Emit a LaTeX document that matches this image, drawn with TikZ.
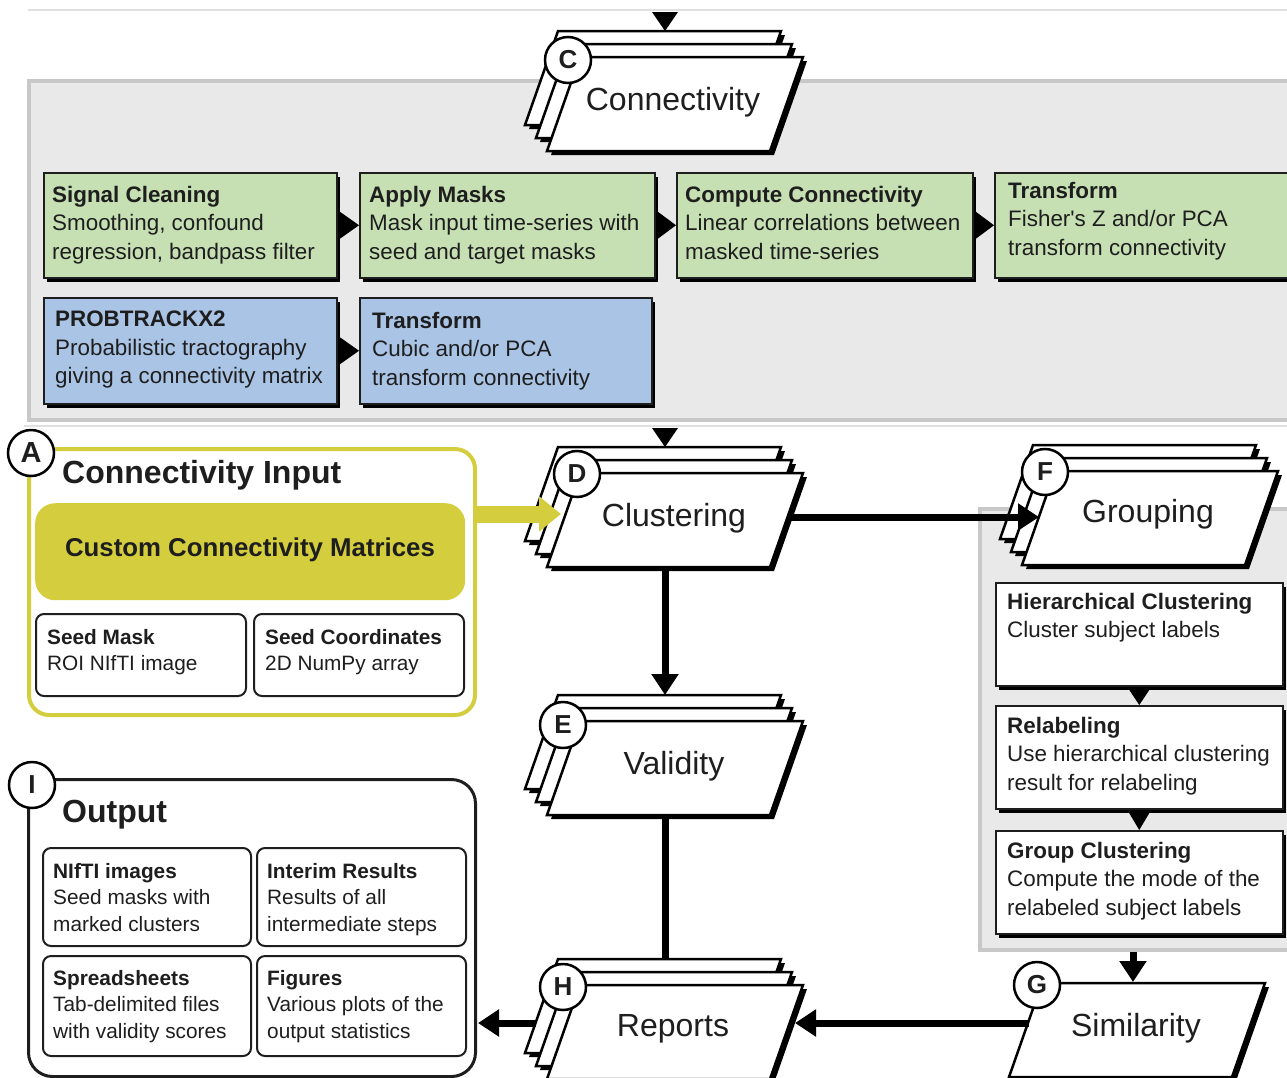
\documentclass[tikz,border=0pt]{standalone}
\usepackage{fontspec}
\setmainfont{Liberation Sans}
\usetikzlibrary{arrows.meta,shadows,calc}

\definecolor{panelfill}{RGB}{233,233,233}
\definecolor{paneledge}{RGB}{200,200,200}
\definecolor{boxgreen}{RGB}{198,224,180}
\definecolor{boxblue}{RGB}{170,196,230}
\definecolor{olive}{RGB}{212,205,62}
\definecolor{ink}{RGB}{30,30,30}

\newcommand\fsz[2]{\fontsize{#1}{#2}\selectfont}

% one sheet of a stacked parallelogram: bottom-left corner, black shadow behind
\newcommand\sheet[2]{%
  \fill[black] (#1+4,#2+4) -- ++(33,-94) -- ++(223,0) -- ++(-33,94) -- cycle;
  \draw[sheetedge] (#1,#2) -- ++(33,-94) -- ++(223,0) -- ++(-33,94) -- cycle;}
% three sheets, front one given by its bottom-left corner
\newcommand\sheetstack[2]{\sheet{#1-22}{#2-26}\sheet{#1-11}{#2-13}\sheet{#1}{#2}}

\begin{document}
\begin{tikzpicture}[x=1pt,y=-1pt,
  panel/.style={fill=panelfill,draw=paneledge,line width=4pt,anchor=north west,inner sep=0pt},
  faint/.style={draw=black!12,line width=1.5pt},
  shadowed/.style={drop shadow={shadow xshift=3.5pt,shadow yshift=-4pt,opacity=1,fill=black}},
  gbox/.style={shadowed,draw=ink,line width=1.5pt,fill=boxgreen,anchor=north west,inner sep=0pt},
  bbox/.style={gbox,fill=boxblue},
  wbox/.style={gbox,fill=white},
  rbox/.style={draw=ink,line width=2pt,rounded corners=8pt,fill=white,anchor=north west,inner sep=0pt},
  btext/.style={anchor=north west,align=left,inner sep=0pt,text=ink,font=\fsz{22.4}{28.4}},
  stext/.style={btext,font=\fsz{20.8}{26.5}},
  sheetedge/.style={fill=white,draw=black,line width=2.5pt},
  sheetlabel/.style={font=\fsz{32}{38},text=ink,inner sep=0pt},
  badge/.style={circle,draw=black,line width=2.5pt,fill=white,minimum size=46pt,inner sep=0pt,font=\bfseries\fsz{26}{30},text=ink},
  heading/.style={anchor=west,inner sep=0pt,font=\bfseries\fsz{32}{38},text=ink},
  flow/.style={draw=black,line width=7pt,-{Triangle[length=21pt,width=26pt]}},
  flowline/.style={draw=black,line width=7pt},
  yflow/.style={draw=olive,line width=17pt,-{Triangle[length=22pt,width=34pt]}},
  tri/.style={fill=black},
]
\useasboundingbox (0,0) rectangle (1287,1077);
\clip (0,0) rectangle (1287,1077);

% page rules
\draw[faint] (28,10) -- (1287,10);
\draw[faint] (24,426) -- (1287,426);

% ---------- connectivity panel ----------
\node[panel,minimum width=1273pt,minimum height=339pt] (cpanel) at (27,79) {};

\node[gbox,minimum width=293pt,minimum height=105pt] (sigc) at (43,172) {};
\node[gbox,minimum width=295pt,minimum height=105pt] (apm) at (359,172) {};
\node[gbox,minimum width=296pt,minimum height=105pt] (cmp) at (676,172) {};
\node[gbox,minimum width=300pt,minimum height=105pt] (tfz) at (994,172) {};
\node[bbox,minimum width=293pt,minimum height=106pt] (ptx) at (43,297) {};
\node[bbox,minimum width=292pt,minimum height=106pt] (tfc) at (359,297) {};

\node[btext] (sigc-t) at ([shift={(9,14)}]sigc.north west)
  {\textbf{Signal Cleaning}\\Smoothing, confound\\regression, bandpass filter};
\node[btext] (apm-t) at ([shift={(10,14)}]apm.north west)
  {\textbf{Apply Masks}\\Mask input time-series with\\seed and target masks};
\node[btext] (cmp-t) at ([shift={(9,14)}]cmp.north west)
  {\textbf{Compute Connectivity}\\Linear correlations between\\masked time-series};
\node[btext] (tfz-t) at ([shift={(14,10)}]tfz.north west)
  {\textbf{Transform}\\Fisher\textquotesingle s Z and/or PCA\\transform connectivity};
\node[btext] (ptx-t) at ([shift={(12,14)}]ptx.north west)
  {\textbf{PROBTRACKX2}\\Probabilistic tractography\\giving a connectivity matrix};
\node[btext] (tfc-t) at ([shift={(13,15)}]tfc.north west)
  {\textbf{Transform}\\Cubic and/or PCA\\transform connectivity};

\fill[tri] ([shift={(1,-14.5)}]sigc.east) -- ([shift={(1,14.5)}]sigc.east) -- (apm.west) -- cycle;
\fill[tri] ([shift={(1,-14.5)}]apm.east) -- ([shift={(1,14.5)}]apm.east) -- (cmp.west) -- cycle;
\fill[tri] ([shift={(1,-14.5)}]cmp.east) -- ([shift={(1,14.5)}]cmp.east) -- (tfz.west) -- cycle;
\fill[tri] ([shift={(1,-14.5)}]ptx.east) -- ([shift={(1,14.5)}]ptx.east) -- (tfc.west) -- cycle;

% ---------- grouping panel ----------
\node[panel,minimum width=322pt,minimum height=441pt] (gpanel) at (978,507) {};
\node[wbox,minimum width=287pt,minimum height=103pt] (hier) at (995,582) {};
\node[wbox,minimum width=287pt,minimum height=103pt] (relab) at (995,705) {};
\node[wbox,minimum width=287pt,minimum height=103pt] (gclu) at (995,830) {};
\node[btext] (hier-t) at ([shift={(12,11)}]hier.north west)
  {\textbf{Hierarchical Clustering}\\Cluster subject labels};
\node[btext] (relab-t) at ([shift={(12,12)}]relab.north west)
  {\textbf{Relabeling}\\Use hierarchical clustering\\result for relabeling};
\node[btext] (gclu-t) at ([shift={(12,12)}]gclu.north west)
  {\textbf{Group Clustering}\\Compute the mode of the\\relabeled subject labels};
\fill[tri] ([shift={(-11,2)}]hier.south) -- ([shift={(11,2)}]hier.south) -- (relab.north) -- cycle;
\fill[tri] ([shift={(-11,2)}]relab.south) -- ([shift={(11,2)}]relab.south) -- (gclu.north) -- cycle;

% ---------- connectivity input ----------
\node[draw=olive,line width=4pt,rounded corners=20pt,anchor=north west,inner sep=0pt,
      minimum width=446pt,minimum height=266pt] (cin) at (27,447) {};
\node[heading] (cin-h) at (62,475) {Connectivity Input};
\node[fill=olive,rounded corners=20pt,anchor=north west,inner sep=0pt,
      minimum width=430pt,minimum height=97pt] (ccm) at (35,503) {};
\node[inner sep=0pt,font=\bfseries\fsz{25.8}{30},text=ink] (ccm-t) at (250,550) {Custom Connectivity Matrices};
\node[rbox,minimum width=210pt,minimum height=82pt] (smask) at (35,613) {};
\node[rbox,minimum width=210pt,minimum height=82pt] (scoord) at (253,613) {};
\node[stext] (smask-t) at ([shift={(12,16)}]smask.north west) {\textbf{Seed Mask}\\ROI NIfTI image};
\node[stext] (scoord-t) at ([shift={(12,16)}]scoord.north west) {\textbf{Seed Coordinates}\\2D NumPy array};

% ---------- output ----------
\node[draw=ink,line width=3pt,rounded corners=24pt,anchor=north west,inner sep=0pt,
      minimum width=447pt,minimum height=297pt] (outp) at (27,778) {};
\node[heading] (outp-h) at (62,815) {Output};
\node[rbox,minimum width=208pt,minimum height=98pt] (nifti) at (42,847) {};
\node[rbox,minimum width=209pt,minimum height=98pt] (interim) at (256,847) {};
\node[rbox,minimum width=208pt,minimum height=100pt] (sheets) at (42,955) {};
\node[rbox,minimum width=209pt,minimum height=100pt] (figs) at (256,955) {};
\node[stext] (nifti-t) at ([shift={(11,16)}]nifti.north west) {\textbf{NIfTI images}\\Seed masks with\\marked clusters};
\node[stext] (interim-t) at ([shift={(11,16)}]interim.north west) {\textbf{Interim Results}\\Results of all\\intermediate steps};
\node[stext] (sheets-t) at ([shift={(11,15)}]sheets.north west) {\textbf{Spreadsheets}\\Tab-delimited files\\with validity scores};
\node[stext] (figs-t) at ([shift={(11,15)}]figs.north west) {\textbf{Figures}\\Various plots of the\\output statistics};

% ---------- stacked stages ----------
\sheetstack{547}{151}
\node[sheetlabel] (conn) at (673,102) {Connectivity};
\sheetstack{547}{567}
\node[sheetlabel] (clus) at (674,518) {Clustering};
\sheetstack{547}{815}
\node[sheetlabel] (vali) at (674,766) {Validity};
\sheetstack{547}{1079}
\node[sheetlabel] (repo) at (673,1029) {Reports};
\sheetstack{1022}{565}
\node[sheetlabel] (grp) at (1148,514) {Grouping};
\sheet{1009}{1077}
\node[sheetlabel] (simi) at (1136,1028) {Similarity};

% connector ends on the sheet outlines
\coordinate (conn-in) at (665,31);
\coordinate (clus-in) at (665,447);
\coordinate (clus-out) at (665,569);
\coordinate (clus-e) at (789,517);
\coordinate (clus-yw) at (561,514);
\coordinate (vali-in) at (665,695);
\coordinate (vali-out) at (665,817);
\coordinate (repo-in) at (665,960);
\coordinate (repo-e) at (795,1023);
\coordinate (repo-w) at (536,1023);
\coordinate (out-e) at (478,1023);
\coordinate (grp-w) at (1039,517);
\coordinate (simi-w) at (1029,1023);
\coordinate (simi-n) at (1133,982);

% ---------- connectors ----------
\fill[tri] ([shift={(-13,-19)}]conn-in) -- ([shift={(13,-19)}]conn-in) -- (conn-in) -- cycle;
\fill[tri] ([shift={(-13,-19)}]clus-in) -- ([shift={(13,-19)}]clus-in) -- (clus-in) -- cycle;
\draw[yflow] (cin.east |- clus-yw) -- (clus-yw);
\draw[flow] (clus-out) -- (vali-in);
\draw[flow] (clus-e) -- (grp-w);
\draw[flowline] (vali-out) -- (repo-in);
\draw[flow] (gpanel.south -| simi-n) -- (simi-n);
\draw[flow] (simi-w) -- (repo-e);
\draw[flow] (repo-w) -- (out-e);

% ---------- stage badges ----------
\node[badge] (bC) at (568,60) {C};
\node[badge] (bD) at (577,474) {D};
\node[badge] (bE) at (563,725) {E};
\node[badge] (bH) at (563,987) {H};
\node[badge] (bF) at (1045,472) {F};
\node[badge] (bG) at (1037,985) {G};
\node[badge,font=\bfseries\fsz{29}{32}] (bA) at (31,453) {A};
\node[badge] (bI) at (32,785) {I};
\end{tikzpicture}
\end{document}
